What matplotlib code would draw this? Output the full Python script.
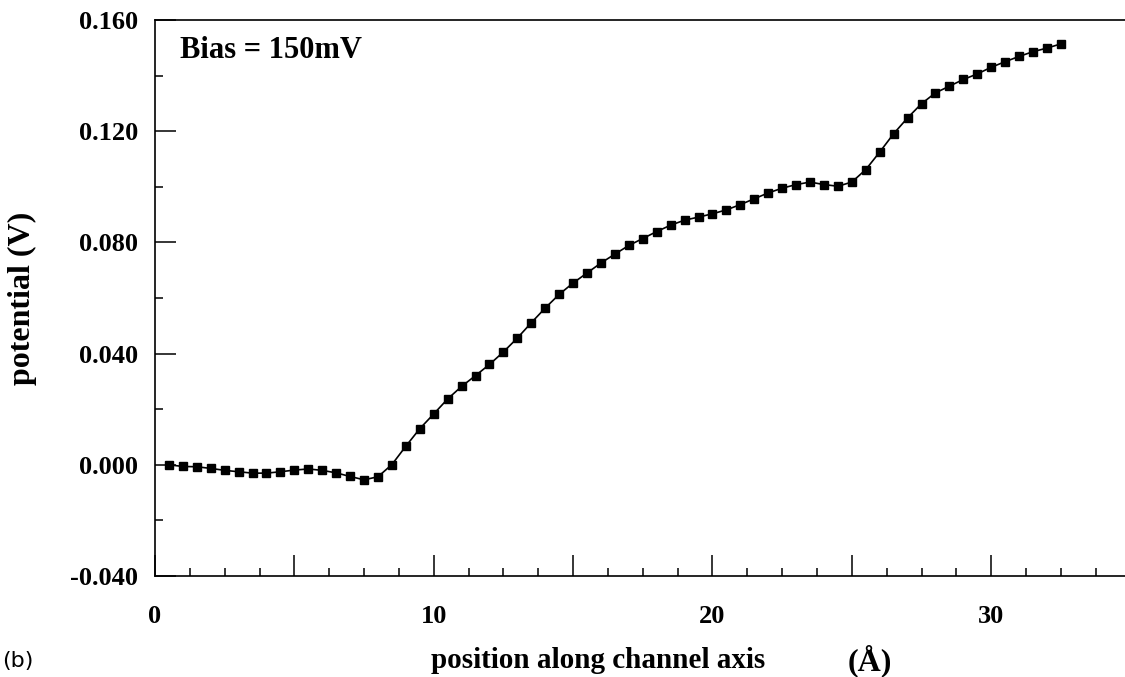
import matplotlib
matplotlib.use('Agg')
import matplotlib.pyplot as plt
from matplotlib.ticker import MultipleLocator

# position along channel axis (Angstrom)
position = [0.5, 1.0, 1.5, 2.0, 2.5, 3.0, 3.5, 4.0, 4.5, 5.0,
            5.5, 6.0, 6.5, 7.0, 7.5, 8.0, 8.5, 9.0, 9.5, 10.0,
            10.5, 11.0, 11.5, 12.0, 12.5, 13.0, 13.5, 14.0, 14.5, 15.0,
            15.5, 16.0, 16.5, 17.0, 17.5, 18.0, 18.5, 19.0, 19.5, 20.0,
            20.5, 21.0, 21.5, 22.0, 22.5, 23.0, 23.5, 24.0, 24.5, 25.0,
            25.5, 26.0, 26.5, 27.0, 27.5, 28.0, 28.5, 29.0, 29.5, 30.0,
            30.5, 31.0, 31.5, 32.0, 32.5]

# potential (V)
potential = [0.0000, -0.0006, -0.0007, -0.0013, -0.0020, -0.0025, -0.0030, -0.0030, -0.0025, -0.0019,
             -0.0015, -0.0020, -0.0029, -0.0042, -0.0054, -0.0043, 0.0001, 0.0067, 0.0130, 0.0183,
             0.0237, 0.0282, 0.0321, 0.0361, 0.0406, 0.0456, 0.0511, 0.0564, 0.0613, 0.0654,
             0.0690, 0.0726, 0.0758, 0.0789, 0.0814, 0.0839, 0.0862, 0.0880, 0.0891, 0.0903,
             0.0917, 0.0936, 0.0957, 0.0978, 0.0995, 0.1008, 0.1017, 0.1008, 0.1002, 0.1017,
             0.1062, 0.1125, 0.1191, 0.1248, 0.1299, 0.1338, 0.1362, 0.1386, 0.1406, 0.1430,
             0.1450, 0.1469, 0.1486, 0.1499, 0.1514]

x_labels = ['0', '10', '20', '30']
x_label_pos = [0, 10, 20, 30]
y_ticks = [-0.04, 0.0, 0.04, 0.08, 0.12, 0.16]


def main():
    serif = ['Liberation Serif', 'DejaVu Serif']
    fig = plt.figure(figsize=(11.25, 6.77), dpi=100)
    ax = fig.add_axes([155 / 1125, 101 / 677, 970 / 1125, 556 / 677])

    ax.plot(position, potential, color='black', linewidth=1.2,
            marker='s', markersize=5.5, markerfacecolor='black',
            markeredgecolor='black')

    ax.set_xlim(0, 34.8)
    ax.set_ylim(-0.04, 0.16)

    ax.spines['right'].set_visible(False)
    for side in ['left', 'bottom', 'top']:
        ax.spines[side].set_linewidth(1.2)

    # x: long ticks every 5, short every 1.25, labels only at 0/10/20/30
    ax.xaxis.set_major_locator(MultipleLocator(5))
    ax.xaxis.set_minor_locator(MultipleLocator(1.25))
    ax.set_xticklabels([])
    ax.tick_params(axis='x', which='major', direction='in', length=15,
                   width=1.1, top=False)
    ax.tick_params(axis='x', which='minor', direction='in', length=6,
                   width=1.1, top=False)
    for xv, lab in zip(x_label_pos, x_labels):
        ax.text(xv, -0.0505, lab, ha='center', va='top', fontsize=19,
                fontweight='bold', family=serif)

    ax.set_yticks(y_ticks)
    ax.set_yticklabels(['%.3f' % v for v in y_ticks])
    ax.yaxis.set_minor_locator(MultipleLocator(0.02))
    ax.tick_params(axis='y', which='major', direction='in', length=15,
                   width=1.1, pad=12, labelsize=19)
    ax.tick_params(axis='y', which='minor', direction='in', length=6,
                   width=1.1)
    for lab in ax.get_yticklabels():
        lab.set_fontweight('bold')
        lab.set_family(serif)

    ax.text(0.026, 0.946, 'Bias = 150mV', transform=ax.transAxes,
            fontsize=22, fontweight='bold', family=serif,
            ha='left', va='center')

    fig.text(22 / 1125, 1 - 298 / 677, 'potential (V)', rotation=90,
             ha='center', va='center', fontsize=23, fontweight='bold',
             family=serif)
    fig.text(598 / 1125, 1 - 661 / 677, 'position along channel axis',
             ha='center', va='center', fontsize=21, fontweight='bold',
             family=serif)
    fig.text(848 / 1125, 1 - 661 / 677, '(\u00c5)',
             ha='left', va='center', fontsize=23, fontweight='bold',
             family=serif)
    fig.text(2 / 1125, 1 - 661 / 677, '(b)', ha='left', va='center',
             fontsize=16, family=['DejaVu Sans'])

    fig.savefig('out.png', dpi=100)
    print('Wrote: out.png')


if __name__ == '__main__':
    main()
